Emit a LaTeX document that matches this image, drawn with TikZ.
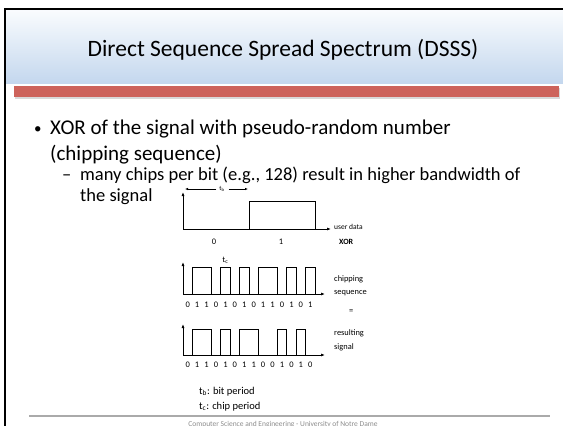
\documentclass[tikz,border=0pt]{standalone}
\usepackage{fontspec}
\setmainfont{Carlito}
\usetikzlibrary{arrows.meta}
\definecolor{titletop}{RGB}{250,252,254}
\definecolor{titlebot}{RGB}{196,215,238}
\definecolor{barred}{RGB}{205,99,91}
\definecolor{footgray}{RGB}{170,170,170}
\definecolor{foottext}{RGB}{140,140,140}
\tikzset{
  axis/.style={line width=0.8pt,-{Latex[length=4pt,width=3pt]}},
  sig/.style={line width=0.8pt},
  tinytext/.style={inner sep=0pt,font=\fontsize{6.5}{8}\selectfont},
  sidetext/.style={inner sep=0pt,anchor=base west,font=\fontsize{8.4}{10}\selectfont},
  digit/.style={inner sep=0pt,anchor=base,font=\fontsize{8.5}{10}\selectfont},
  bodytext/.style={inner sep=0pt,anchor=base west,font=\fontsize{21}{25}\selectfont},
  subtext/.style={inner sep=0pt,anchor=base west,font=\fontsize{18.5}{22}\selectfont},
  legend/.style={inner sep=0pt,anchor=base west,font=\fontsize{10.5}{12}\selectfont},
}
% chip width: seven chips per bit
\def\chipw{9.4286}
% #1 baseline y, #2 high level y, #3 label baseline y, #4 chip values, #5 name prefix
\newcommand\chipwave[5]{%
  \xdef\lastbit{0}%
  \foreach \b [count=\i from 0] in {#4}{
    \pgfmathsetmacro\xa{183+\i*\chipw}
    \pgfmathsetmacro\xb{183+(\i+1)*\chipw}
    \ifnum\b=1 \def\yl{#2}\else\def\yl{#1}\fi
    \draw[sig] (\xa,\yl) -- (\xb,\yl);
    \ifnum\b=\lastbit\relax\else\draw[sig] (\xa,#1) -- (\xa,#2);\fi
    \xdef\lastbit{\b}
    \xdef\lastx{\xb}
    \node[digit] (#5\i) at ({(\xa+\xb)/2},#3) {\b};
  }
  \ifnum\lastbit=1 \draw[sig] (\lastx,#2) -- (\lastx,#1);\fi
}
\begin{document}
\begin{tikzpicture}[x=1pt,y=-1pt]
\useasboundingbox (0,0) rectangle (563,426);

% title band
\fill[top color=titletop,bottom color=titlebot] (5,9) rectangle (563,83);
\fill[black!25,opacity=0.6] (15,88) rectangle (560,99);
\fill[barred] (14,86) rectangle (559,97);
\node[inner sep=0pt,anchor=base,font=\fontsize{23.5}{28}\selectfont] (title) at (283,56)
  {Direct Sequence Spread Spectrum (DSSS)};

% slide border
\draw[line width=2pt] (563,9) -- (5,9) -- (5,426);

% bullet text
\node[bodytext,font=\fontsize{15}{18}\selectfont] (b1) at (34,133) {•};
\node[bodytext] (l1) at (50,134) {XOR of the signal with pseudo-random number};
\node[bodytext] (l2) at (50,160) {(chipping sequence)};
\node[subtext] (b2) at (62,180) {–};
\node[subtext] (l3) at (80,180) {many chips per bit (e.g., 128) result in higher bandwidth of};
\node[subtext] (l4) at (80,201) {the signal};

% user data
\coordinate (o1) at (183,229);
\draw[axis] (o1) -- (183,192);
\draw[axis] (o1) -- (331,229);
\draw[sig] (249,229) -- (249,201) -- (315,201) -- (315,229);
\node[tinytext] (tb) at (222,189) {t\textsubscript{b}};
\draw[line width=0.6pt,-{Latex[length=3pt,width=2.4pt]}] (tb.west) ++(-3,0) -- (185,189);
\draw[line width=0.6pt,-{Latex[length=3pt,width=2.4pt]}] (tb.east) ++(4,0) -- (248,189);
\node[digit] (d0) at (214,244) {0};
\node[digit] (d1) at (281,244) {1};
\node[sidetext,font=\fontsize{7.5}{9}\selectfont] (ud) at (334,229) {user data};
\node[sidetext,font=\bfseries\fontsize{8}{10}\selectfont] (xor) at (339,244) {XOR};

% chipping sequence
\coordinate (o2) at (183,294);
\draw[axis] (o2) -- (183,262);
\draw[axis] (o2) -- (325,294);
\chipwave{294}{267}{307}{0,1,1,0,1,0,1,0,1,1,0,1,0,1}{c}
\node[inner sep=0pt,anchor=base,font=\fontsize{8.5}{10}\selectfont] (tc) at (225.4,262) {t\textsubscript{c}};
\node[sidetext] (cs1) at (334,281) {chipping};
\node[sidetext] (cs2) at (334,294) {sequence};
\node[sidetext] (eq) at (349,313) {=};

% resulting signal
\coordinate (o3) at (183,355);
\draw[axis] (o3) -- (183,324);
\draw[axis] (o3) -- (325,355);
\chipwave{355}{329}{367}{0,1,1,0,1,0,1,1,0,0,1,0,1,0}{r}
\node[sidetext] (rs1) at (334,335) {resulting};
\node[sidetext] (rs2) at (334,349) {signal};

% legend
\node[legend] (lg1) at (199,394) {t\textsubscript{b}: bit period};
\node[legend] (lg2) at (199,409) {t\textsubscript{c}: chip period};

% footer
\draw[footgray,line width=2pt] (29,416) -- (550,416);
\node[inner sep=0pt,anchor=base,text=foottext,font=\fontsize{7.5}{9}\selectfont] (foot) at (283,426)
  {Computer Science and Engineering - University of Notre Dame};
\end{tikzpicture}
\end{document}
